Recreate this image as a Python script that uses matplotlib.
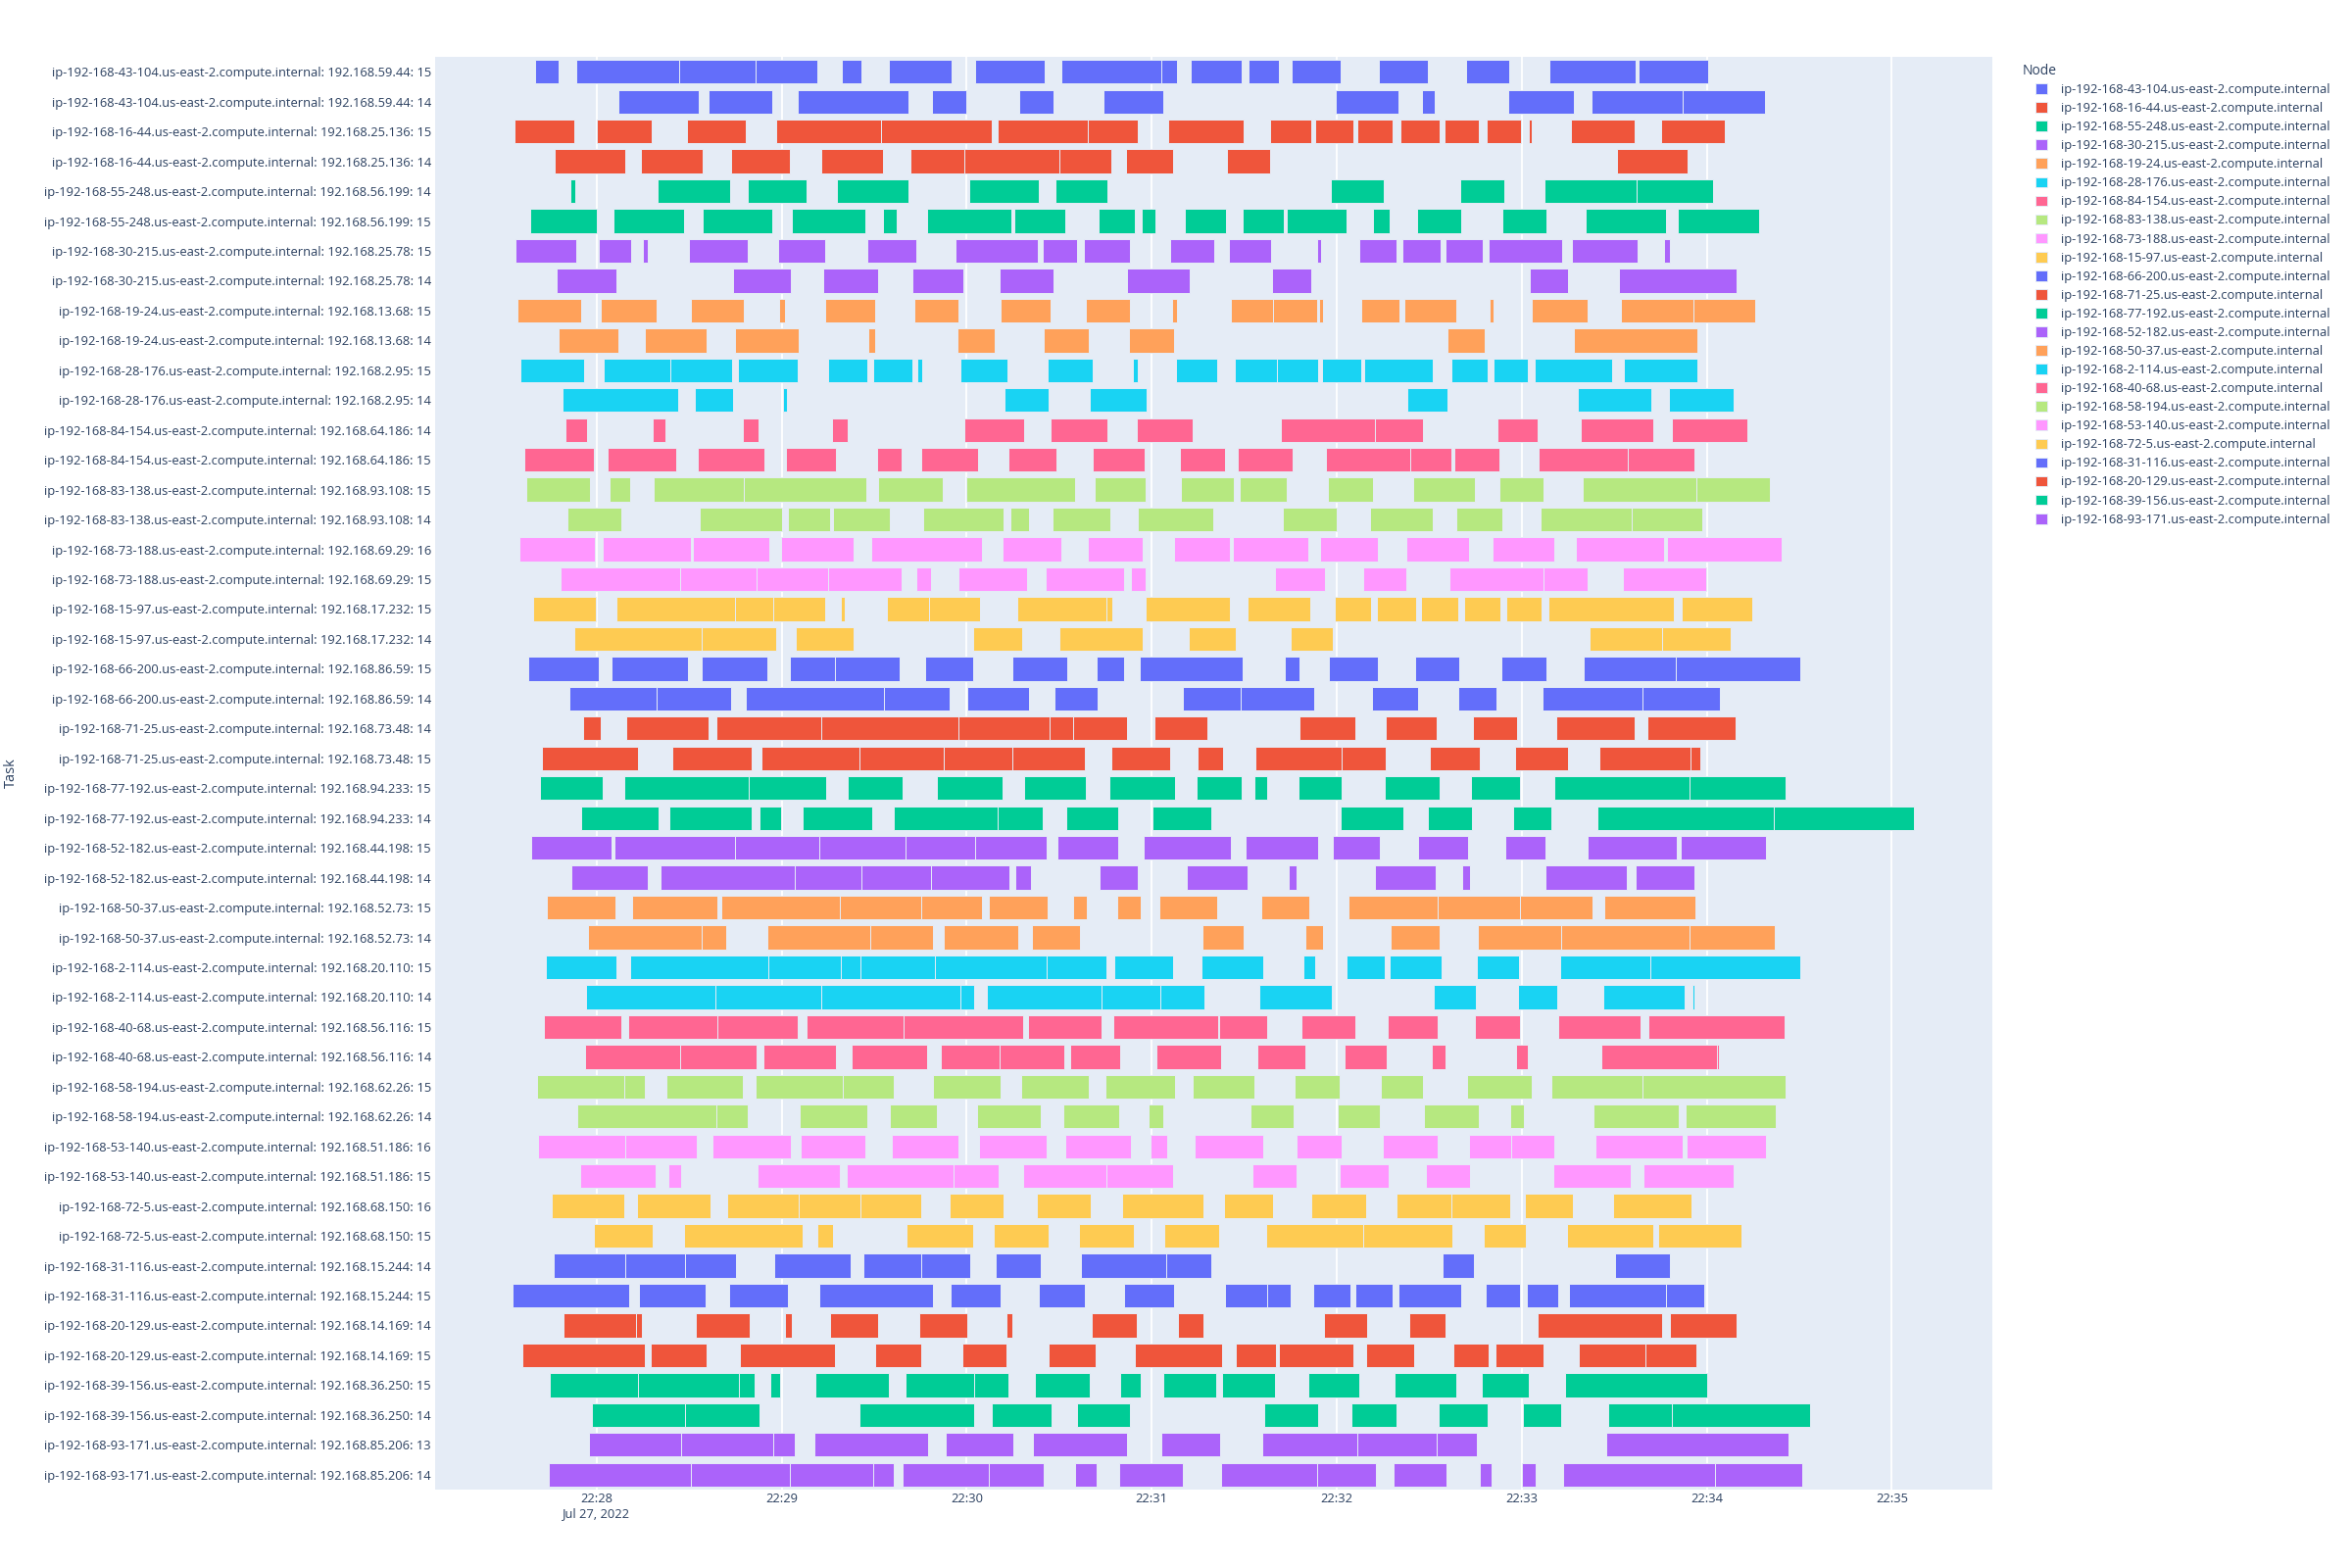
import matplotlib
matplotlib.use("Agg")
import matplotlib.pyplot as plt

plt.rcParams['font.family'] = ['Open Sans', 'DejaVu Sans']

# nodes in legend order, plotly default palette
nodes = ["43-104", "16-44", "55-248", "30-215", "19-24", "28-176", "84-154", "83-138",
         "73-188", "15-97", "66-200", "71-25", "77-192", "52-182", "50-37", "2-114",
         "40-68", "58-194", "53-140", "72-5", "31-116", "20-129", "39-156", "93-171"]
palette = ['#636EFA', '#EF553B', '#00CC96', '#AB63FA', '#FFA15A',
           '#19D3F3', '#FF6692', '#B6E880', '#FF97FF', '#FECB52']

# task rows, top to bottom
row_node = ["43-104", "43-104", "16-44", "16-44", "55-248", "55-248", "30-215", "30-215",
            "19-24", "19-24", "28-176", "28-176", "84-154", "84-154", "83-138", "83-138",
            "73-188", "73-188", "15-97", "15-97", "66-200", "66-200", "71-25", "71-25",
            "77-192", "77-192", "52-182", "52-182", "50-37", "50-37", "2-114", "2-114",
            "40-68", "40-68", "58-194", "58-194", "53-140", "53-140", "72-5", "72-5",
            "31-116", "31-116", "20-129", "20-129", "39-156", "39-156", "93-171", "93-171"]
row_ip = ["59.44", "59.44", "25.136", "25.136", "56.199", "56.199", "25.78", "25.78",
          "13.68", "13.68", "2.95", "2.95", "64.186", "64.186", "93.108", "93.108",
          "69.29", "69.29", "17.232", "17.232", "86.59", "86.59", "73.48", "73.48",
          "94.233", "94.233", "44.198", "44.198", "52.73", "52.73", "20.110", "20.110",
          "56.116", "56.116", "62.26", "62.26", "51.186", "51.186", "68.150", "68.150",
          "15.244", "15.244", "14.169", "14.169", "36.250", "36.250", "85.206", "85.206"]
row_worker = [15, 14, 15, 14, 14, 15, 15, 14, 15, 14, 15, 14, 14, 15, 15, 14,
              16, 15, 15, 14, 15, 14, 14, 15, 15, 14, 15, 14, 15, 14, 15, 14,
              15, 14, 15, 14, 16, 15, 16, 15, 14, 15, 14, 15, 15, 14, 13, 14]

# (start, end) in seconds after 22:27:00 on Jul 27, 2022
bars_01 = [(40.1,47.7),(53.3,86.7),(86.7,111.5),(111.5,131.7),(139.5,145.8),(154.7,175.2),(182.7,205.4),(210.8,243.0),(243.0,248.3),(252.5,269.3),(271.4,281.2),(285.5,301.1),(313.6,329.6),(341.8,356.0),(369.1,397.0),(398.0,420.5)]
bars_02 = [(66.9,93.2),(96.2,117.0),(125.1,161.1),(168.6,180.0),(197.1,208.1),(224.4,243.8),(299.8,319.9),(327.7,331.7),(355.6,376.9),(382.7,412.1),(412.1,438.8)]
bars_03 = [(33.2,52.8),(60.0,77.7),(89.3,108.2),(118.1,152.3),(152.3,188.0),(189.9,219.2),(219.2,235.5),(245.4,269.9),(278.3,291.8),(292.9,305.3),(306.7,318.2),(320.8,333.5),(334.9,346.1),(348.7,359.8),(362.2,363.2),(375.8,396.5),(405.2,425.9)]
bars_04 = [(46.5,69.2),(74.4,94.4),(103.5,122.7),(132.8,152.7),(161.7,179.3),(179.3,210.2),(210.2,226.8),(231.5,246.8),(264.5,278.5),(390.8,413.8)]
bars_05 = [(51.5,53.0),(79.8,103.2),(108.9,128.0),(137.9,161.0),(180.9,203.3),(208.8,225.6),(298.1,315.1),(340.1,354.4),(367.3,397.1),(397.1,422.0)]
bars_06 = [(38.3,60.0),(65.3,88.2),(94.5,117.0),(123.2,147.2),(152.7,157.4),(167.0,194.6),(195.3,212.1),(222.6,234.5),(236.6,241.1),(250.7,264.1),(269.6,282.7),(283.9,303.2),(311.8,317.2),(325.9,340.3),(353.8,368.0),(380.8,406.9),(410.6,436.9)]
bars_07 = [(33.8,53.4),(60.6,71.1),(75.0,76.5),(90.0,108.9),(118.7,134.0),(147.6,163.7),(176.3,203.1),(204.5,215.9),(218.1,232.8),(246.0,260.1),(265.1,278.8),(293.5,294.8),(307.3,319.4),(321.4,333.7),(335.3,347.3),(349.3,373.1),(376.3,397.4),(406.0,408.1)]
bars_08 = [(47.1,66.3),(104.3,123.0),(133.4,151.4),(162.3,179.0),(190.5,208.1),(232.1,252.3),(278.9,291.8),(362.6,375.1),(391.4,429.5)]
bars_09 = [(34.4,55.1),(61.2,79.5),(90.6,107.7),(119.1,121.2),(134.0,150.2),(162.9,177.2),(191.1,207.3),(218.7,232.8),(246.6,248.1),(265.6,279.4),(279.4,293.5),(294.2,295.4),(307.9,320.3),(321.8,338.8),(349.7,350.9),(363.2,381.4),(392.0,415.7),(415.7,435.7)]
bars_10 = [(47.7,67.1),(75.6,95.6),(104.7,125.6),(148.2,150.2),(176.9,189.2),(205.1,219.5),(232.7,247.1),(335.9,347.9),(377.0,416.8)]
bars_11 = [(35.4,55.8),(62.4,83.8),(83.8,104.0),(105.9,125.1),(134.9,147.8),(149.6,162.5),(164.1,165.6),(177.8,193.1),(206.3,220.8),(233.9,235.4),(247.8,261.1),(266.8,280.6),(280.6,293.9),(295.3,308.0),(308.9,331.0),(337.1,349.0),(350.9,361.9),(364.3,389.2),(393.2,416.9)]
bars_12 = [(48.8,86.4),(91.7,104.1),(120.5,121.7),(192.3,206.6),(219.8,238.4),(322.9,335.8),(378.1,401.9),(407.6,428.6)]
bars_13 = [(49.8,56.9),(78.0,82.2),(107.3,112.5),(136.2,141.5),(179.1,198.5),(207.2,225.6),(235.1,253.4),(281.9,312.4),(312.4,327.8),(352.1,365.0),(379.1,402.7),(408.8,433.0)]
bars_14 = [(36.5,59.1),(63.6,85.8),(92.7,114.3),(121.4,137.7),(150.8,159.0),(165.3,183.6),(193.5,209.1),(221.0,237.6),(249.0,263.6),(268.0,285.8),(296.5,323.9),(323.9,337.3),(338.2,352.6),(365.5,394.5),(394.5,416.0)]
bars_15 = [(37.2,57.9),(64.2,70.7),(78.6,107.8),(107.8,147.5),(151.4,172.2),(179.7,215.0),(221.6,237.9),(249.6,266.6),(268.6,283.9),(297.1,311.9),(324.8,344.8),(352.9,367.1),(379.9,416.6),(416.6,440.3)]
bars_16 = [(50.4,68.0),(93.3,120.2),(122.1,135.6),(136.7,155.1),(165.9,192.0),(194.3,200.3),(207.9,226.7),(235.5,259.9),(282.5,300.1),(310.7,331.0),(338.8,353.6),(366.2,395.8),(395.8,418.4)]
bars_17 = [(35.0,59.4),(61.8,90.6),(91.2,116.0),(119.9,143.4),(149.0,184.8),(191.7,210.6),(219.3,237.0),(247.1,265.4),(266.3,290.9),(294.7,313.3),(322.4,342.8),(350.5,370.6),(377.5,406.0),(407.2,444.4)]
bars_18 = [(48.3,87.2),(87.2,111.7),(111.7,134.9),(134.9,158.9),(163.5,168.3),(177.3,199.4),(205.7,231.0),(233.3,238.1),(280.1,296.3),(308.5,322.6),(336.4,367.1),(367.1,381.5),(392.8,419.9)]
bars_19 = [(39.5,59.6),(66.5,104.8),(104.8,117.1),(117.1,134.0),(139.1,140.6),(154.1,167.9),(167.9,184.2),(196.5,225.2),(225.2,227.3),(237.9,265.4),(271.0,291.4),(299.3,311.2),(313.1,325.6),(327.2,339.4),(341.2,353.0),(355.0,366.4),(368.5,409.3),(412.0,434.6)]
bars_20 = [(52.7,93.9),(93.9,118.1),(124.5,143.3),(182.1,198.0),(210.2,237.0),(252.0,267.4),(285.1,298.7),(382.0,405.6),(405.6,427.9)]
bars_21 = [(37.7,60.6),(64.7,89.6),(93.9,115.4),(122.6,137.3),(137.3,158.3),(166.4,182.0),(194.7,212.6),(222.0,230.9),(236.0,269.6),(283.3,287.8),(297.5,313.3),(325.3,339.8),(353.3,368.0),(380.2,409.8),(409.8,450.4)]
bars_22 = [(51.0,79.5),(79.5,103.7),(108.2,153.2),(153.2,174.3),(180.2,200.3),(208.4,222.3),(250.1,268.9),(268.9,292.7),(311.3,326.5),(339.5,351.8),(366.8,399.1),(399.1,424.1)]
bars_23 = [(55.5,61.2),(69.5,96.2),(98.7,132.8),(132.8,177.2),(177.2,206.9),(206.9,214.6),(214.6,231.9),(240.8,258.0),(287.9,305.9),(316.0,332.5),(344.2,358.4),(371.2,396.7),(400.6,429.2)]
bars_24 = [(42.3,73.4),(84.5,110.4),(113.3,145.2),(145.2,172.4),(172.4,194.7),(194.7,218.4),(227.0,245.9),(254.9,263.2),(273.7,301.7),(301.7,315.8),(330.2,346.3),(357.7,375.1),(385.1,414.8),(414.8,418.0)]
bars_25 = [(41.7,62.0),(68.9,109.2),(109.2,134.4),(141.5,159.3),(170.4,191.7),(198.6,218.7),(226.2,247.5),(254.4,269.0),(273.2,277.4),(287.5,301.6),(315.5,333.5),(343.6,359.3),(370.6,414.3),(414.3,445.4)]
bars_26 = [(54.9,80.0),(83.7,110.3),(112.7,119.7),(126.8,149.4),(156.2,190.0),(190.0,204.8),(212.3,229.2),(240.2,259.4),(301.3,321.7),(329.6,343.9),(357.1,369.5),(384.4,441.6),(441.6,487.1)]
bars_27 = [(38.9,64.8),(65.9,104.9),(104.9,132.2),(132.2,160.0),(160.0,182.7),(182.7,206.0),(209.4,229.2),(237.3,265.6),(270.4,294.1),(298.6,313.9),(326.5,342.5),(354.5,367.7),(381.4,410.2),(411.4,439.1)]
bars_28 = [(51.9,76.7),(80.6,124.1),(124.1,146.0),(146.0,168.5),(168.5,193.7),(195.8,200.7),(223.2,235.5),(251.4,271.0),(284.3,287.0),(312.5,332.0),(340.6,343.1),(367.7,394.1),(396.8,416.0)]
bars_29 = [(43.7,66.0),(71.4,99.0),(100.4,139.0),(139.0,165.1),(165.1,185.0),(187.1,206.1),(214.5,218.9),(228.8,236.3),(242.6,261.3),(275.5,291.1),(303.7,332.8),(332.8,359.4),(359.4,383.0),(386.8,416.2)]
bars_30 = [(57.2,93.9),(93.9,101.9),(115.2,148.7),(148.7,168.9),(172.5,196.7),(201.0,216.8),(256.5,269.8),(289.9,295.4),(317.6,333.2),(345.8,372.7),(372.7,414.3),(414.3,442.1)]
bars_31 = [(43.4,66.3),(70.7,115.7),(115.7,139.1),(139.1,145.4),(145.4,169.7),(169.7,205.9),(205.9,225.2),(228.0,246.8),(256.1,276.1),(289.3,293.0),(303.1,315.7),(317.2,334.0),(345.4,359.0),(372.4,401.8),(401.8,450.4)]
bars_32 = [(56.6,98.5),(98.5,132.8),(132.8,177.8),(177.8,182.3),(186.5,223.6),(223.6,242.9),(242.9,257.0),(274.9,298.4),(331.3,345.1),(358.9,371.6),(386.3,412.7),(415.4,415.9)]
bars_33 = [(42.8,68.0),(70.1,99.1),(99.1,125.3),(128.1,159.5),(159.5,198.2),(200.0,223.7),(227.4,261.5),(262.0,277.4),(288.7,305.9),(316.6,332.6),(344.8,359.5),(371.9,398.5),(401.2,445.1)]
bars_34 = [(56.1,86.9),(86.9,111.9),(114.0,137.6),(142.8,167.1),(171.5,190.7),(190.7,211.5),(213.5,229.8),(241.5,262.6),(274.3,289.9),(302.6,316.3),(330.7,335.2),(358.3,361.9),(385.7,423.4),(423.4,423.8)]
bars_35 = [(40.5,68.8),(68.8,75.5),(82.5,107.4),(111.5,139.7),(139.7,156.3),(169.2,191.1),(197.7,219.6),(225.0,247.4),(253.4,273.4),(286.3,301.0),(314.2,328.1),(342.4,363.1),(369.5,399.1),(399.1,445.5)]
bars_36 = [(53.7,98.8),(98.8,109.1),(125.9,147.6),(155.1,170.3),(183.5,204.0),(211.2,229.5),(239.0,243.8),(272.0,286.1),(300.4,313.9),(328.3,346.0),(356.2,360.7),(383.3,410.9),(413.2,442.4)]
bars_37 = [(41.0,69.1),(69.1,92.4),(97.4,123.0),(126.3,147.2),(155.7,177.3),(184.1,206.0),(211.8,233.1),(239.7,245.0),(253.8,276.1),(286.9,301.7),(314.8,332.6),(343.0,356.4),(356.4,370.6),(383.9,412.3),(413.6,439.3)]
bars_38 = [(54.5,79.1),(83.1,87.5),(112.1,138.9),(141.0,175.6),(175.6,190.4),(198.2,225.4),(225.4,246.8),(272.8,287.0),(300.8,316.7),(329.0,343.3),(370.1,395.3),(399.4,428.6)]
bars_39 = [(45.5,69.0),(73.2,96.9),(102.3,125.5),(125.5,145.4),(145.4,165.3),(174.5,192.0),(202.8,220.2),(230.4,256.7),(263.3,279.4),(291.8,309.5),(319.4,337.3),(337.3,356.2),(361.1,376.6),(389.5,415.0)]
bars_40 = [(59.0,78.2),(88.2,126.9),(131.6,136.5),(160.5,182.0),(188.7,206.7),(216.3,234.2),(244.2,261.8),(277.1,308.7),(308.7,337.6),(347.6,361.3),(374.6,402.5),(404.2,431.2)]
bars_41 = [(45.9,69.4),(69.4,88.6),(88.6,105.3),(117.6,142.5),(146.4,165.2),(165.2,181.2),(189.5,204.0),(216.9,244.6),(244.6,259.2),(334.3,344.5),(390.2,407.9)]
bars_42 = [(32.6,70.4),(73.8,95.4),(102.9,122.1),(132.2,169.1),(174.9,191.0),(203.4,218.3),(230.9,247.1),(263.9,277.3),(277.3,285.2),(292.3,304.4),(306.1,318.1),(320.0,340.3),(348.2,359.3),(361.6,371.9),(375.2,406.8),(406.8,419.3)]
bars_43 = [(49.2,72.7),(72.7,74.7),(92.1,109.5),(120.9,123.3),(135.6,151.2),(164.6,180.3),(192.9,194.9),(220.4,235.2),(248.4,256.8),(295.7,309.8),(323.6,335.2),(365.0,405.4),(408.1,429.8)]
bars_44 = [(36.0,75.6),(77.4,95.6),(106.5,137.3),(150.2,165.2),(178.5,192.8),(206.7,221.9),(234.5,262.7),(267.4,280.4),(281.3,305.5),(309.5,325.1),(337.7,349.1),(351.5,367.1),(378.5,400.1),(400.1,416.5)]
bars_45 = [(44.9,73.3),(73.3,106.0),(106.0,111.2),(116.3,119.6),(131.0,154.8),(160.1,182.3),(182.3,193.5),(202.2,219.8),(229.8,236.3),(243.6,260.8),(262.9,280.0),(290.9,307.3),(318.8,338.8),(346.9,362.3),(374.0,420.1)]
bars_46 = [(58.4,88.8),(88.8,112.8),(145.2,182.4),(188.1,207.5),(215.9,232.8),(276.5,293.8),(304.9,319.4),(333.1,348.8),(360.5,372.8),(388.1,408.7),(408.7,453.5)]
bars_47 = [(57.6,87.5),(87.5,117.1),(117.1,124.1),(130.5,167.4),(173.1,195.0),(201.6,231.9),(243.2,262.1),(275.9,306.7),(306.7,332.4),(332.4,345.5),(387.5,446.5)]
bars_48 = [(44.4,90.7),(90.7,122.8),(122.8,149.8),(149.8,156.2),(159.3,187.1),(187.1,204.9),(215.1,222.0),(229.4,250.2),(262.4,293.7),(293.7,312.7),(318.4,335.6),(346.4,350.3),(359.9,364.4),(373.4,422.8),(422.8,451.1)]

rows = [bars_01, bars_02, bars_03, bars_04, bars_05, bars_06, bars_07, bars_08,
        bars_09, bars_10, bars_11, bars_12, bars_13, bars_14, bars_15, bars_16,
        bars_17, bars_18, bars_19, bars_20, bars_21, bars_22, bars_23, bars_24,
        bars_25, bars_26, bars_27, bars_28, bars_29, bars_30, bars_31, bars_32,
        bars_33, bars_34, bars_35, bars_36, bars_37, bars_38, bars_39, bars_40,
        bars_41, bars_42, bars_43, bars_44, bars_45, bars_46, bars_47, bars_48]

tick_minutes = [28, 29, 30, 31, 32, 33, 34, 35]


def host(node):
    return "ip-192-168-" + node + ".us-east-2.compute.internal"


TXT = '#2a3f5f'
FS = 9.3
W, H = 2400, 1600

fig = plt.figure(figsize=(24, 16), dpi=100)
ax = fig.add_axes([444 / W, 1 - 1520 / H, (2033 - 444) / W, (1520 - 58) / H])
ax.set_facecolor('#E5ECF6')

labels = []
handles = {}
for i, bars in enumerate(rows):
    node = row_node[i]
    labels.append("%s: 192.168.%s: %d" % (host(node), row_ip[i], row_worker[i]))
    color = palette[nodes.index(node) % len(palette)]
    lefts = [s for s, e in bars]
    widths = [e - s for s, e in bars]
    cont = ax.barh([i] * len(bars), widths, left=lefts, height=0.8,
                   color=color, edgecolor='#E5ECF6', linewidth=0.7, zorder=2)
    if node not in handles:
        handles[node] = cont

ax.set_ylim(len(rows) - 0.5, -0.5)
ax.set_yticks(range(len(rows)))
ax.set_yticklabels(labels)

# x axis in seconds after 22:27:00
ax.set_xlim(7.6, 512.6)
ax.set_xticks([(m - 27) * 60 for m in tick_minutes])
xl = ["22:%02d" % m for m in tick_minutes]
xl[0] = xl[0] + "\nJul 27, 2022"
ax.set_xticklabels(xl)
ax.tick_params(axis='both', length=0, labelsize=FS, labelcolor=TXT)
ax.tick_params(axis='y', pad=3)
ax.tick_params(axis='x', pad=2)
ax.xaxis.grid(True, color='white', linewidth=1.3, zorder=0)
ax.set_axisbelow(True)
for sp in ax.spines.values():
    sp.set_visible(False)

fig.text(4 / W, 1 - 789 / H, "Task", rotation=90, ha='left', va='center',
         fontsize=10.5, color=TXT)

# legend: title drawn apart so it sits left of the swatches, as in plotly
fig.text(2064 / W, 1 - 73 / H, "Node", ha='left', va='center', fontsize=10, color=TXT)
leg = fig.legend([handles[n] for n in nodes], [host(n) for n in nodes],
                 loc='upper left', bbox_to_anchor=(2077 / W, 1 - 85 / H),
                 frameon=False, fontsize=FS, borderpad=0, borderaxespad=0,
                 handlelength=0.9, handleheight=0.9, handletextpad=1.1,
                 labelspacing=0.47)
for t in leg.get_texts():
    t.set_color(TXT)

fig.savefig("out.png", dpi=100)
